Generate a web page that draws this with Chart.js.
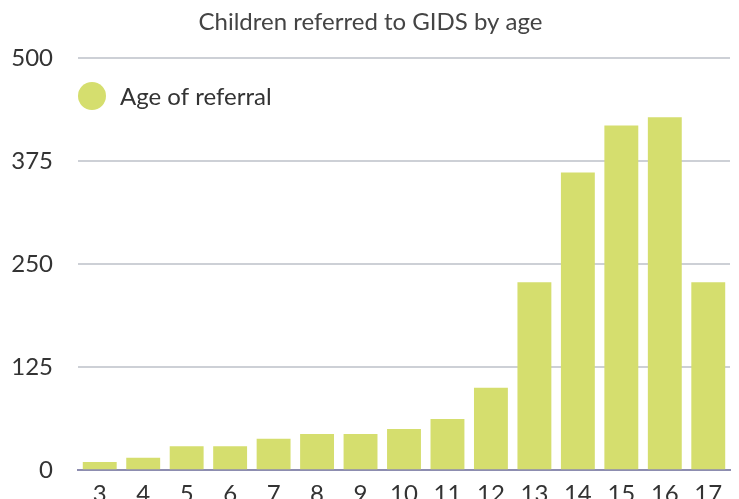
<!DOCTYPE html>
<html>
<head>
<meta charset="utf-8">
<script src="https://cdn.jsdelivr.net/npm/chart.js@4"></script>
<style>
    html, body { margin: 0; padding: 0; overflow: hidden; background: #fff; }
    #wrap { width: 739px; height: 519px; }
</style>
</head>
<body>
<div id="wrap"><canvas id="bieudo"></canvas></div>
<script>
const ages = ['3', '4', '5', '6', '7', '8', '9', '10', '11', '12', '13', '14', '15', '16', '17'];
const referrals = [10, 15, 29, 29, 38, 44, 44, 50, 62, 100, 228, 361, 418, 428, 228];
const yTicks = [0, 125, 250, 375, 500];

const barColor = 'rgb(213, 222, 110)';
const fontName = 'Lato, "Open Sans", sans-serif';

// legend sits inside the plot, top-left
const insideLegend = {
    id: 'insideLegend',
    afterDraw(chart) {
        const ctx = chart.ctx;
        ctx.save();
        ctx.fillStyle = barColor;
        ctx.beginPath();
        ctx.arc(92, 96, 14, 0, Math.PI * 2);
        ctx.fill();
        ctx.fillStyle = '#333';
        ctx.font = '24px ' + fontName;
        ctx.textBaseline = 'middle';
        ctx.fillText(chart.data.datasets[0].label, 120, 97);
        ctx.restore();
    }
};

const chart = document.getElementById('bieudo');

new Chart(chart, {
    type: 'bar',
    data: {
        labels: ages,
        datasets: [{
            label: 'Age of referral',
            data: referrals,
            backgroundColor: barColor,
            categoryPercentage: 1,
            barPercentage: 0.78
        }]
    },
    plugins: [insideLegend],
    options: {
        responsive: true,
        maintainAspectRatio: false,
        animation: false,
        layout: { padding: { left: 11, right: 9, top: 0, bottom: 0 } },
        plugins: {
            legend: { display: false },
            tooltip: { enabled: false },
            title: {
                display: true,
                text: 'Children referred to GIDS by age',
                color: '#444',
                font: { family: fontName, size: 24, weight: 'normal' },
                padding: { top: 8, bottom: 21 }
            }
        },
        scales: {
            x: {
                grid: { display: false, drawTicks: false },
                border: { color: '#8d8db0', width: 2 },
                ticks: {
                    color: '#333',
                    padding: 10,
                    font: { family: fontName, size: 24 }
                }
            },
            y: {
                min: 0,
                max: 500,
                afterBuildTicks(axis) {
                    axis.ticks = yTicks.map(v => ({ value: v }));
                },
                afterFit(axis) {
                    axis.width = 67;
                },
                grid: {
                    color: '#cdd0d6',
                    lineWidth: 2,
                    drawTicks: false
                },
                border: { display: false },
                ticks: {
                    color: '#333',
                    padding: 25,
                    font: { family: fontName, size: 24 }
                }
            }
        }
    }
});
</script>
</body>
</html>
